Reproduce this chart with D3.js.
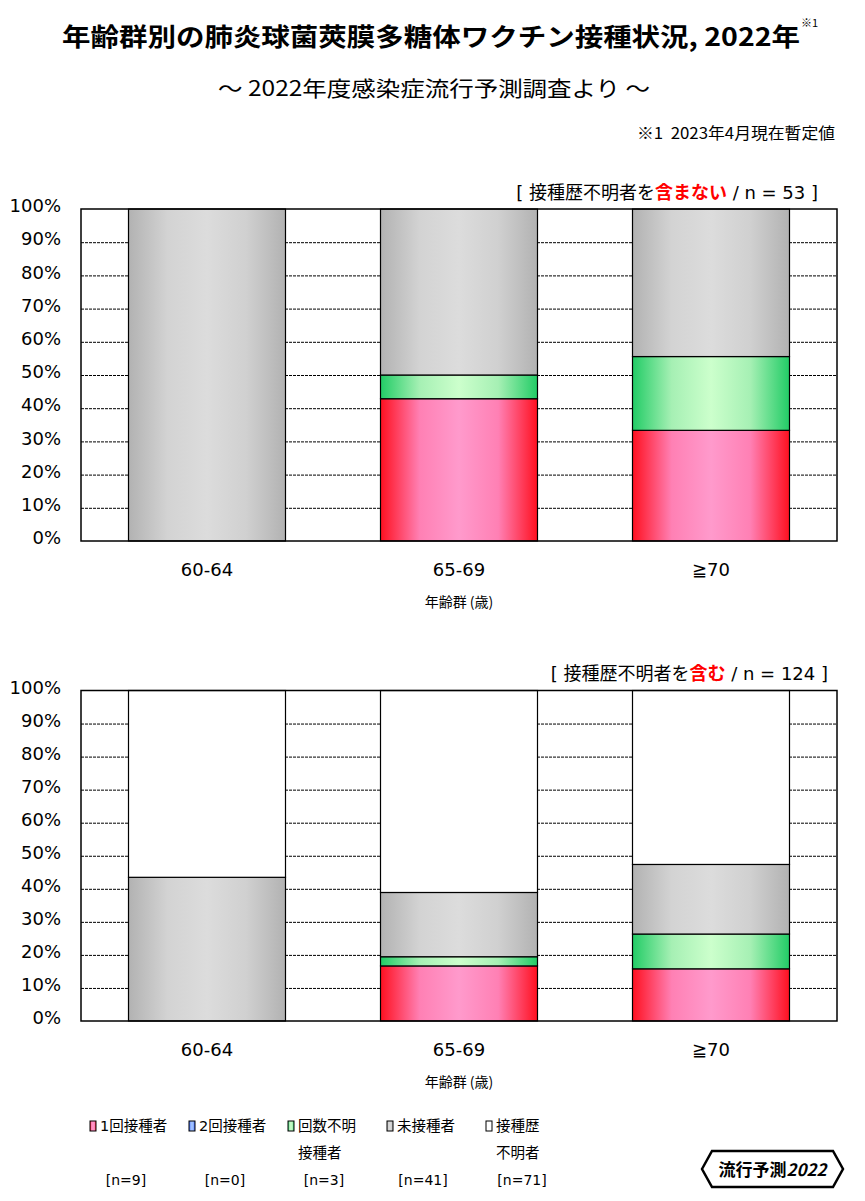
<!DOCTYPE html>
<html>
<head>
<meta charset="utf-8">
<script src="https://cdn.jsdelivr.net/npm/d3@7"></script>
<style>
  body { margin: 0; background: #fff; }
  svg text { fill: #000; }
  .jp { font-family: "Noto Sans CJK JP", "Noto Sans", sans-serif; }
  .mix { font-family: "DejaVu Sans", "Noto Sans CJK JP", sans-serif; white-space: pre; }
  .num { font-family: "DejaVu Sans", Verdana, sans-serif; }
  .grid line { stroke: #000; stroke-width: 1; stroke-dasharray: 3,1; }
</style>
</head>
<body>
<script>
// 年齢群
var ageGroups = ["60-64", "65-69", "≧70"];
// 接種状況の区分
var keys = ["once", "twice", "unknownDoses", "unvaccinated", "unknownHistory"];
var legendLines = [["1回接種者"], ["2回接種者"], ["回数不明", "接種者"], ["未接種者"], ["接種歴", "不明者"]];
// 人数 (年齢群ごと)
var once = [0, 6, 3];
var twice = [0, 0, 0];
var unknownDoses = [0, 1, 2];
var unvaccinated = [30, 7, 4];
var unknownHistory = [39, 22, 10];
// 目盛り
var yTicks = [0, 0.1, 0.2, 0.3, 0.4, 0.5, 0.6, 0.7, 0.8, 0.9, 1];
var yTickLabels = ["0%", "10%", "20%", "30%", "40%", "50%", "60%", "70%", "80%", "90%", "100%"];

var width = 865, height = 1201,
    left = 81, right = 837;

var series = {once: once, twice: twice, unknownDoses: unknownDoses,
              unvaccinated: unvaccinated, unknownHistory: unknownHistory};
var rows = ageGroups.map(function(a, i) {
  var r = {age: a};
  keys.forEach(function(k) { r[k] = series[k][i]; });
  return r;
});

var svg = d3.select("body").append("svg")
    .attr("width", width)
    .attr("height", height);

// グラデーション
var defs = svg.append("defs");
var grads = {
  once: ["#ff1020", "#ff80b4", "#ff9acc", "#ff80b4", "#ff1020"],
  twice: ["#3366ff", "#88aaff", "#aaccff", "#88aaff", "#3366ff"],
  unknownDoses: ["#22cc66", "#a6f0b4", "#ccffcc", "#a6f0b4", "#22cc66"],
  unvaccinated: ["#b2b2b2", "#d3d3d3", "#dcdcdc", "#d0d0d0", "#b2b2b2"]
};
Object.keys(grads).forEach(function(k) {
  var g = defs.append("linearGradient").attr("id", "g-" + k)
      .attr("x1", 0).attr("x2", 1).attr("y1", 0).attr("y2", 0);
  grads[k].forEach(function(c, i) {
    g.append("stop").attr("offset", i / 4).attr("stop-color", c);
  });
});
function fillOf(k) { return k === "unknownHistory" ? "#fff" : "url(#g-" + k + ")"; }

// タイトル
svg.append("text").attr("class", "jp")
    .attr("x", 62).attr("y", 46)
    .attr("textLength", 738).attr("lengthAdjust", "spacingAndGlyphs")
    .style("font-size", "25px").style("font-weight", "bold")
    .text("年齢群別の肺炎球菌莢膜多糖体ワクチン接種状況, 2022年");
svg.append("text").attr("class", "jp")
    .attr("x", 801).attr("y", 27)
    .style("font-size", "11px")
    .text("※1");
svg.append("text").attr("class", "jp")
    .attr("x", 218).attr("y", 96)
    .attr("textLength", 432).attr("lengthAdjust", "spacingAndGlyphs")
    .style("font-size", "21px")
    .text("～ 2022年度感染症流行予測調査より ～");
svg.append("text").attr("class", "jp")
    .attr("x", 835).attr("y", 139).attr("text-anchor", "end")
    .attr("textLength", 198).attr("lengthAdjust", "spacingAndGlyphs")
    .style("font-size", "15.5px").style("white-space", "pre")
    .text("※1  2023年4月現在暫定値");

var x = d3.scaleBand()
    .domain(ageGroups)
    .range([left, right])
    .paddingInner(0.377)
    .paddingOuter(0.1885);

function panel(top, bottom, useKeys, labelY, labelRight, redText, nTotal) {
  var y = d3.scaleLinear().domain([0, 1]).range([bottom, top]);
  var stacked = d3.stack().keys(useKeys).offset(d3.stackOffsetExpand)(rows);

  // 補助線
  svg.append("g")
      .attr("class", "grid")
      .attr("transform", "translate(" + left + ",0)")
      .call(d3.axisLeft(y).tickValues(yTicks.slice(1, -1)).tickSize(-(right - left)).tickFormat(""))
      .call(function(g) { g.select(".domain").remove(); });

  // 積み上げ棒
  var layer = svg.append("g").selectAll("g")
      .data(stacked)
      .join("g")
      .attr("fill", function(d) { return fillOf(d.key); });
  layer.selectAll("rect")
      .data(function(d) { return d.filter(function(s) { return s[1] - s[0] > 0; }); })
      .join("rect")
      .attr("x", function(d) { return x(d.data.age); })
      .attr("width", x.bandwidth())
      .attr("y", function(d) { return y(d[1]); })
      .attr("height", function(d) { return y(d[0]) - y(d[1]); })
      .attr("stroke", "#000")
      .attr("stroke-width", 1.2);

  // 枠
  svg.append("rect")
      .attr("x", left).attr("y", top)
      .attr("width", right - left).attr("height", bottom - top)
      .attr("fill", "none").attr("stroke", "#000").attr("stroke-width", 1.5);

  // Y軸
  svg.append("g")
      .attr("transform", "translate(" + left + ",0)")
      .call(d3.axisLeft(y).tickValues(yTicks).tickSize(0).tickPadding(20)
          .tickFormat(function(d, i) { return yTickLabels[i]; }))
      .call(function(g) {
        g.select(".domain").remove();
        g.selectAll("text").attr("class", "num").attr("dy", "0.15em")
            .style("font-size", "18px").attr("fill", "#111");
      });

  // X軸
  svg.append("g")
      .attr("transform", "translate(0," + bottom + ")")
      .call(d3.axisBottom(x).tickSize(0).tickPadding(22))
      .call(function(g) {
        g.select(".domain").remove();
        g.selectAll("text").attr("class", "num")
            .style("font-size", "18px").attr("fill", "#111");
      });
  svg.append("text").attr("class", "jp")
      .attr("x", (left + right) / 2).attr("y", bottom + 66)
      .attr("text-anchor", "middle")
      .style("font-size", "14px")
      .text("年齢群 (歳)");

  // 注記
  var t = svg.append("text").attr("class", "mix")
      .attr("x", labelRight).attr("y", labelY)
      .attr("text-anchor", "end")
      .style("font-size", "18px");
  t.append("tspan").text("[ 接種歴不明者を");
  t.append("tspan").attr("fill", "#ff0000").style("font-weight", "bold").text(redText);
  t.append("tspan").text(" / n = " + nTotal + " ]");
}

var keysKnown = keys.filter(function(k) { return k !== "unknownHistory"; });
var nKnown = d3.sum(rows, function(r) { return d3.sum(keysKnown, function(k) { return r[k]; }); });
var nAll = d3.sum(rows, function(r) { return d3.sum(keys, function(k) { return r[k]; }); });

panel(209, 541, keysKnown, 199, 818, "含まない", nKnown);
panel(690.5, 1021, keys, 680, 828, "含む", nAll);

// 凡例
var lx = d3.scalePoint().domain(keys).range([90, 486]);
var leg = svg.append("g").selectAll("g")
    .data(keys)
    .join("g")
    .attr("transform", function(k) { return "translate(" + lx(k) + ",1121)"; });
leg.append("rect")
    .attr("width", 6).attr("height", 10)
    .attr("fill", fillOf)
    .attr("stroke", "#000").attr("stroke-width", 1);
leg.each(function(k, i) {
  var g = d3.select(this);
  legendLines[i].forEach(function(line, j) {
    g.append("text").attr("class", "mix")
        .attr("x", 10).attr("y", 10 + j * 27)
        .style("font-size", "14.5px")
        .text(line);
  });
  g.append("text").attr("class", "num")
      .attr("x", 36).attr("y", 64)
      .attr("text-anchor", "middle")
      .style("font-size", "14px")
      .text("[n=" + d3.sum(series[k]) + "]");
});

// ロゴ
var logo = svg.append("g");
logo.append("polygon")
    .attr("points", "702,1169 712,1151 833,1151 843,1169 833,1187 712,1187")
    .attr("fill", "#fff").attr("stroke", "#000").attr("stroke-width", 2.5);
var lt = logo.append("text").attr("class", "jp")
    .attr("x", 772.5).attr("y", 1175.5).attr("text-anchor", "middle")
    .style("font-size", "17px").style("font-weight", "bold");
lt.append("tspan").text("流行予測");
lt.append("tspan").style("font-style", "italic").text("2022");
</script>
</body>
</html>
